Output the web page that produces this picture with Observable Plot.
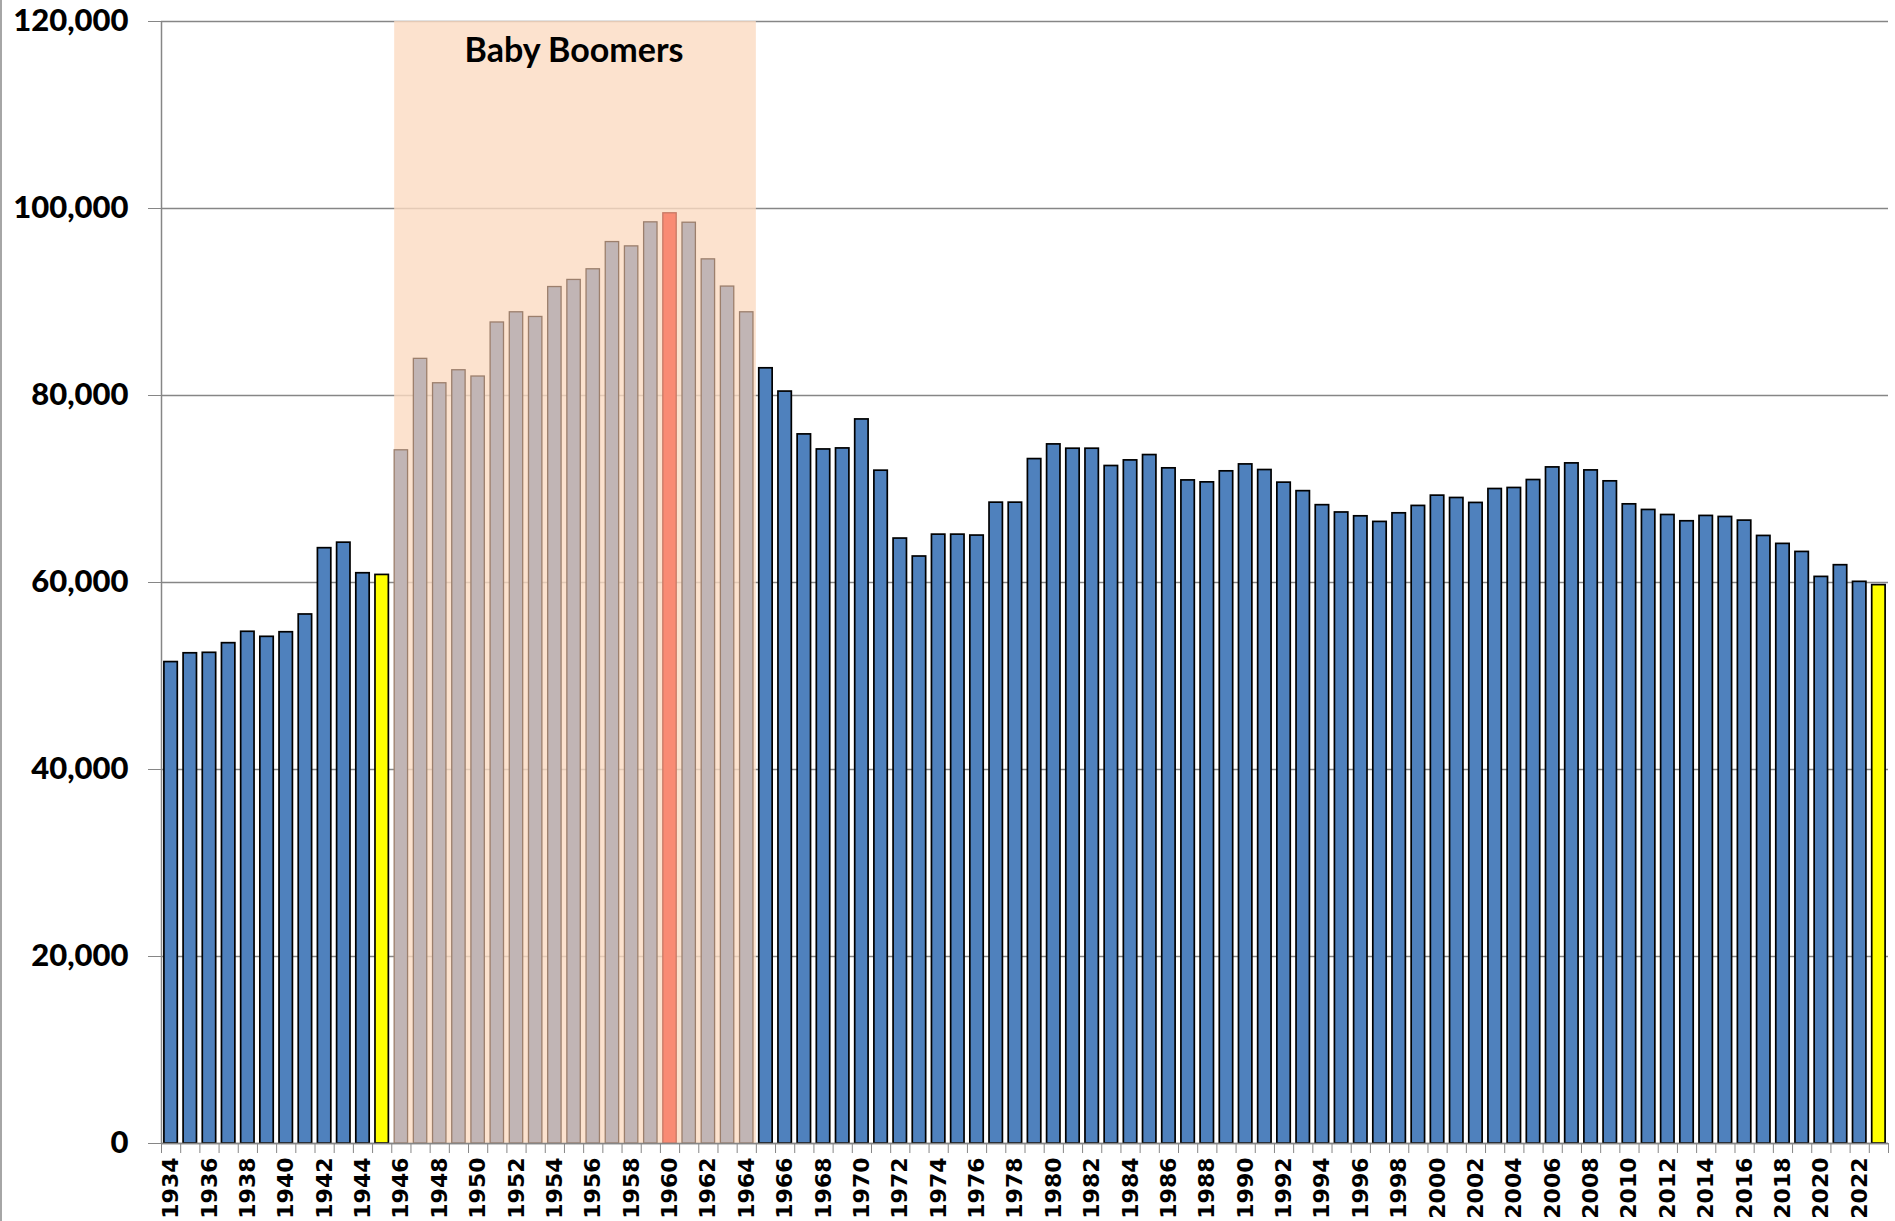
<!DOCTYPE html>
<html>
<head>
<meta charset="utf-8">
<script src="https://cdn.jsdelivr.net/npm/d3@7"></script>
<script src="https://cdn.jsdelivr.net/npm/@observablehq/plot@0.6"></script>
<style>
  html, body { margin: 0; padding: 0; background: #fff; }
  #chart { position: relative; width: 1895px; height: 1221px; overflow: hidden; }
  #chart::before { content: ""; position: absolute; left: 0; top: 0; width: 2px; height: 1221px; background: #a6a6a6; z-index: 2; }
</style>
</head>
<body>
<div id="chart"></div>
<script>
// ---- data ----
const firstYear = 1934;
const births = [
  51490, 52430, 52480, 53510, 54730, 54190, 54680, 56580, 63670, 64260, // 1934-1943
  60990, 60810, 74140, 83920, 81310, 82700, 82030, 87810, 88900, 88400, // 1944-1953
  91600, 92360, 93500, 96410, 95950, 98520, 99490, 98480, 94560, 91650, // 1954-1963
  88900, 82910, 80420, 75840, 74230, 74340, 77440, 71960, 64700, 62780, // 1964-1973
  65120, 65120, 65020, 68540, 68540, 73200, 74770, 74310, 74310, 72460, // 1974-1983
  73060, 73630, 72210, 70920, 70710, 71890, 72630, 72030, 70680, 69770, // 1984-1993
  68270, 67490, 67080, 66480, 67400, 68190, 69290, 69040, 68510, 70000, // 1994-2003
  70110, 70960, 72310, 72740, 71990, 70820, 68360, 67760, 67220, 66550, // 2004-2013
  67120, 67010, 66620, 64980, 64130, 63270, 60600, 61850, 60070, 59720  // 2014-2023
];
const boomStart = 1946;
const boomEnd = 1964;
const peakYear = 1960;
const highlightYears = [1945, 2023];
const boomLabel = "Baby Boomers";
const yTicks = [0, 20000, 40000, 60000, 80000, 100000, 120000];
const yMax = 120000;

// ---- derived table ----
const years = births.map((_, i) => firstYear + i);
const lastYear = years[years.length - 1];
const data = years.map((year, i) => ({year, value: births[i]}));
const isBoom = d => d.year >= boomStart && d.year <= boomEnd;
const blueBars = data.filter(d => !isBoom(d) && !highlightYears.includes(d.year));
const boomBars = data.filter(d => isBoom(d) && d.year !== peakYear);
const peakBars = data.filter(d => d.year === peakYear);
const yellowBars = data.filter(d => highlightYears.includes(d.year));
const boundaries = [...years, lastYear + 1];
const labelYears = years.filter(y => (y - firstYear) % 2 === 0);
const region = [{start: boomStart, end: boomEnd + 1, label: boomLabel}];

const grid = "#868686";
const inset = 2.9;
const barOpts = {x1: "year", x2: d => d.year + 1, y: "value", insetLeft: inset, insetRight: inset};

const chart = Plot.plot({
  width: 1895,
  height: 1221,
  marginLeft: 161,
  marginRight: 7,
  marginTop: 21,
  marginBottom: 78,
  x: {domain: [firstYear, lastYear + 1], axis: null},
  y: {domain: [0, yMax], axis: null},
  style: {background: "#fff", fontFamily: "Lato, sans-serif", color: "#000", overflow: "visible"},
  marks: [
    Plot.gridY(yTicks, {stroke: grid, strokeOpacity: 1, strokeWidth: 1.4}),
    Plot.rect(region, {x1: "start", x2: "end", y1: () => 0, y2: () => yMax, insetLeft: inset, fill: "#fbdbc2", fillOpacity: 0.8}),
    Plot.rectY(blueBars, {...barOpts, fill: "#4f81bd", stroke: "#000", strokeWidth: 1.7}),
    Plot.rectY(boomBars, {...barOpts, fill: "#c1b5b5", stroke: "#9c7f6c", strokeWidth: 1.3}),
    Plot.rectY(peakBars, {...barOpts, fill: "#f98b74", stroke: "#c77a66", strokeWidth: 1.3}),
    Plot.rectY(yellowBars, {...barOpts, fill: "#ffff00", stroke: "#000", strokeWidth: 1.7}),
    Plot.ruleX([firstYear], {stroke: grid, strokeWidth: 1.5}),
    Plot.ruleY([0], {stroke: grid, strokeWidth: 1.5}),
    Plot.axisY(yTicks, {
      anchor: "left", tickSize: 13, tickPadding: 20, stroke: grid,
      tickFormat: d3.format(","), fontSize: 31, fontWeight: 900, fontFamily: "Lato, sans-serif", label: null
    }),
    Plot.axisX(boundaries, {anchor: "bottom", tickSize: 10, stroke: grid, tickFormat: () => "", label: null}),
    Plot.axisX(labelYears.map(y => y + 0.5), {
      anchor: "bottom", tickSize: 0, tickPadding: 14, tickRotate: -90,
      tickFormat: d => String(d - 0.5), fontSize: 22, fontWeight: "bold",
      fontFamily: "DejaVu Sans, sans-serif", label: null
    }),
    Plot.text(region, {
      x: d => (d.start + d.end) / 2, y: () => yMax, text: "label", dy: 30,
      fontSize: 34, fontWeight: "bold", fontFamily: "Lato, sans-serif", fill: "#000"
    })
  ]
});
document.getElementById("chart").appendChild(chart);
</script>
</body>
</html>
